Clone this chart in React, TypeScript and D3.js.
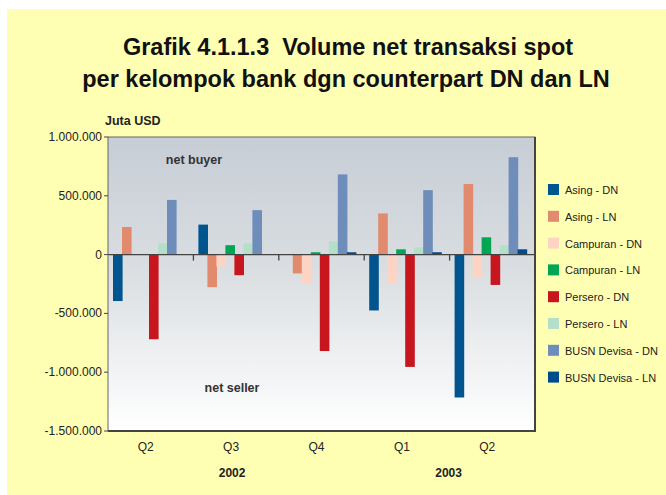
import React from "react";
import * as d3 from "d3";

const categories = ["Q2", "Q3", "Q4", "Q1", "Q2"];
const years = ["2002", "2003"];
const seriesNames = [
  "Asing - DN",
  "Asing - LN",
  "Campuran - DN",
  "Campuran - LN",
  "Persero - DN",
  "Persero - LN",
  "BUSN Devisa - DN",
  "BUSN Devisa - LN",
];
const seriesColors = [
  "#00558F",
  "#E18A6E",
  "#FDD4C4",
  "#00A651",
  "#C8161E",
  "#B4DFC8",
  "#6F8DBB",
  "#004B8C",
];
// values in juta USD, per series, per category
const asingDN = [-395000, 255000, 0, -475000, -1215000];
const asingLN = [235000, -277000, -160000, 350000, 600000];
const campuranDN = [0, -100000, -245000, -245000, -198000];
const campuranLN = [0, 80000, 20000, 45000, 147000];
const perseroDN = [-720000, -175000, -820000, -955000, -258000];
const perseroLN = [95000, 95000, 113000, 62000, 79000];
const busnDN = [465000, 378000, 682000, 548000, 828000];
const busnLN = [0, 0, 20000, 20000, 45000];
const seriesValues = [asingDN, asingLN, campuranDN, campuranLN, perseroDN, perseroLN, busnDN, busnLN];
const yTicks = [1000000, 500000, 0, -500000, -1000000, -1500000];

const W = 666;
const H = 495;
const plot = { left: 108, right: 535, top: 137, bottom: 431 };

function fmt(v: number) {
  const s = Math.abs(v).toString().replace(/\B(?=(\d{3})+(?!\d))/g, ".");
  return (v < 0 ? "-" : "") + s;
}

export default function App() {
  const y = d3.scaleLinear().domain([-1500000, 1000000]).range([plot.bottom, plot.top]);
  const x = d3
    .scaleBand<number>()
    .domain(categories.map((_, i) => i))
    .range([plot.left, plot.right])
    .padding(0);
  const bw = x.bandwidth();
  const inner = d3
    .scaleBand<number>()
    .domain(seriesNames.map((_, i) => i))
    .range([5, 5 + 72])
    .padding(0);
  const y0 = y(0);
  const font = "'Liberation Sans', Arial, sans-serif";

  return (
    <svg
      width={W}
      height={H}
      style={{ position: "absolute", left: 0, top: 0, display: "block" }}
      fontFamily={font}
    >
      <defs>
        <linearGradient id="plotbg" x1="0" y1="0" x2="0" y2="1">
          <stop offset="0%" stopColor="#C6CDD5" />
          <stop offset="45%" stopColor="#DADEE1" />
          <stop offset="100%" stopColor="#FFFFFF" />
        </linearGradient>
      </defs>
      <rect x={0} y={0} width={W} height={H} fill="#FFFFFF" />
      <rect x={7} y={9} width={W - 7} height={H - 9} fill="#FFFFB3" />

      <text x={348} y={55} textAnchor="middle" fontSize={23.5} fontWeight="bold" fill="#111">
        Grafik 4.1.1.3{"\u00A0\u00A0"}Volume net transaksi spot
      </text>
      <text x={346} y={87} textAnchor="middle" fontSize={23.5} fontWeight="bold" fill="#111">
        per kelompok bank dgn counterpart DN dan LN
      </text>

      <text x={105} y={125} fontSize={12.5} fontWeight="bold" fill="#222">
        Juta USD
      </text>

      <rect
        x={plot.left}
        y={plot.top}
        width={plot.right - plot.left}
        height={plot.bottom - plot.top}
        fill="url(#plotbg)"
      />

      <text x={194} y={164} textAnchor="middle" fontSize={12.5} fontWeight="bold" fill="#333">
        net buyer
      </text>
      <text x={232} y={392} textAnchor="middle" fontSize={12.5} fontWeight="bold" fill="#333">
        net seller
      </text>

      {seriesValues.map((vals, si) =>
        vals.map((v, ci) => {
          const bx = (x(ci) as number) + (inner(si) as number);
          const top = Math.min(y(v), y0);
          const h = Math.abs(y(v) - y0);
          return (
            <rect
              key={`${si}-${ci}`}
              x={bx}
              y={top}
              width={inner.bandwidth() + 0.6}
              height={h}
              fill={seriesColors[si]}
            />
          );
        })
      )}

      {/* zero line */}
      <line x1={plot.left} x2={plot.right} y1={y0} y2={y0} stroke="#444" strokeWidth={1.3} />
      {categories.map((_, i) =>
        i === 0 ? null : (
          <line
            key={"xt" + i}
            x1={x(i) as number}
            x2={x(i) as number}
            y1={y0}
            y2={y0 + 6}
            stroke="#444"
            strokeWidth={1.3}
          />
        )
      )}

      {/* frame */}
      <rect
        x={plot.left}
        y={plot.top}
        width={plot.right - plot.left}
        height={plot.bottom - plot.top}
        fill="none"
        stroke="#666"
        strokeWidth={1}
      />
      <line x1={plot.right} x2={plot.right} y1={plot.top} y2={plot.bottom + 1} stroke="#444" strokeWidth={2} />
      <line x1={plot.left} x2={plot.right + 1} y1={plot.bottom} y2={plot.bottom} stroke="#444" strokeWidth={2} />

      {yTicks.map((t) => (
        <g key={"yt" + t}>
          <line x1={plot.left - 4} x2={plot.left} y1={y(t)} y2={y(t)} stroke="#444" strokeWidth={1} />
          <text x={plot.left - 6} y={y(t) + 4} textAnchor="end" fontSize={12} fill="#222">
            {fmt(t)}
          </text>
        </g>
      ))}

      {categories.map((c, i) => (
        <text
          key={"cl" + i}
          x={(x(i) as number) + bw / 2 - 5}
          y={451}
          textAnchor="middle"
          fontSize={12}
          fill="#222"
        >
          {c}
        </text>
      ))}
      <text x={(x(1) as number) + bw / 2 - 4} y={477} textAnchor="middle" fontSize={12} fontWeight="bold" fill="#222">
        {years[0]}
      </text>
      <text x={(x(4) as number) - 1} y={477} textAnchor="middle" fontSize={12} fontWeight="bold" fill="#222">
        {years[1]}
      </text>

      {seriesNames.map((n, i) => {
        const ly = 184 + i * 26.8;
        return (
          <g key={"lg" + i}>
            <rect x={548} y={ly} width={11} height={11} fill={seriesColors[i]} />
            <text x={565} y={ly + 10} fontSize={11} fill="#222">
              {n}
            </text>
          </g>
        );
      })}
    </svg>
  );
}
